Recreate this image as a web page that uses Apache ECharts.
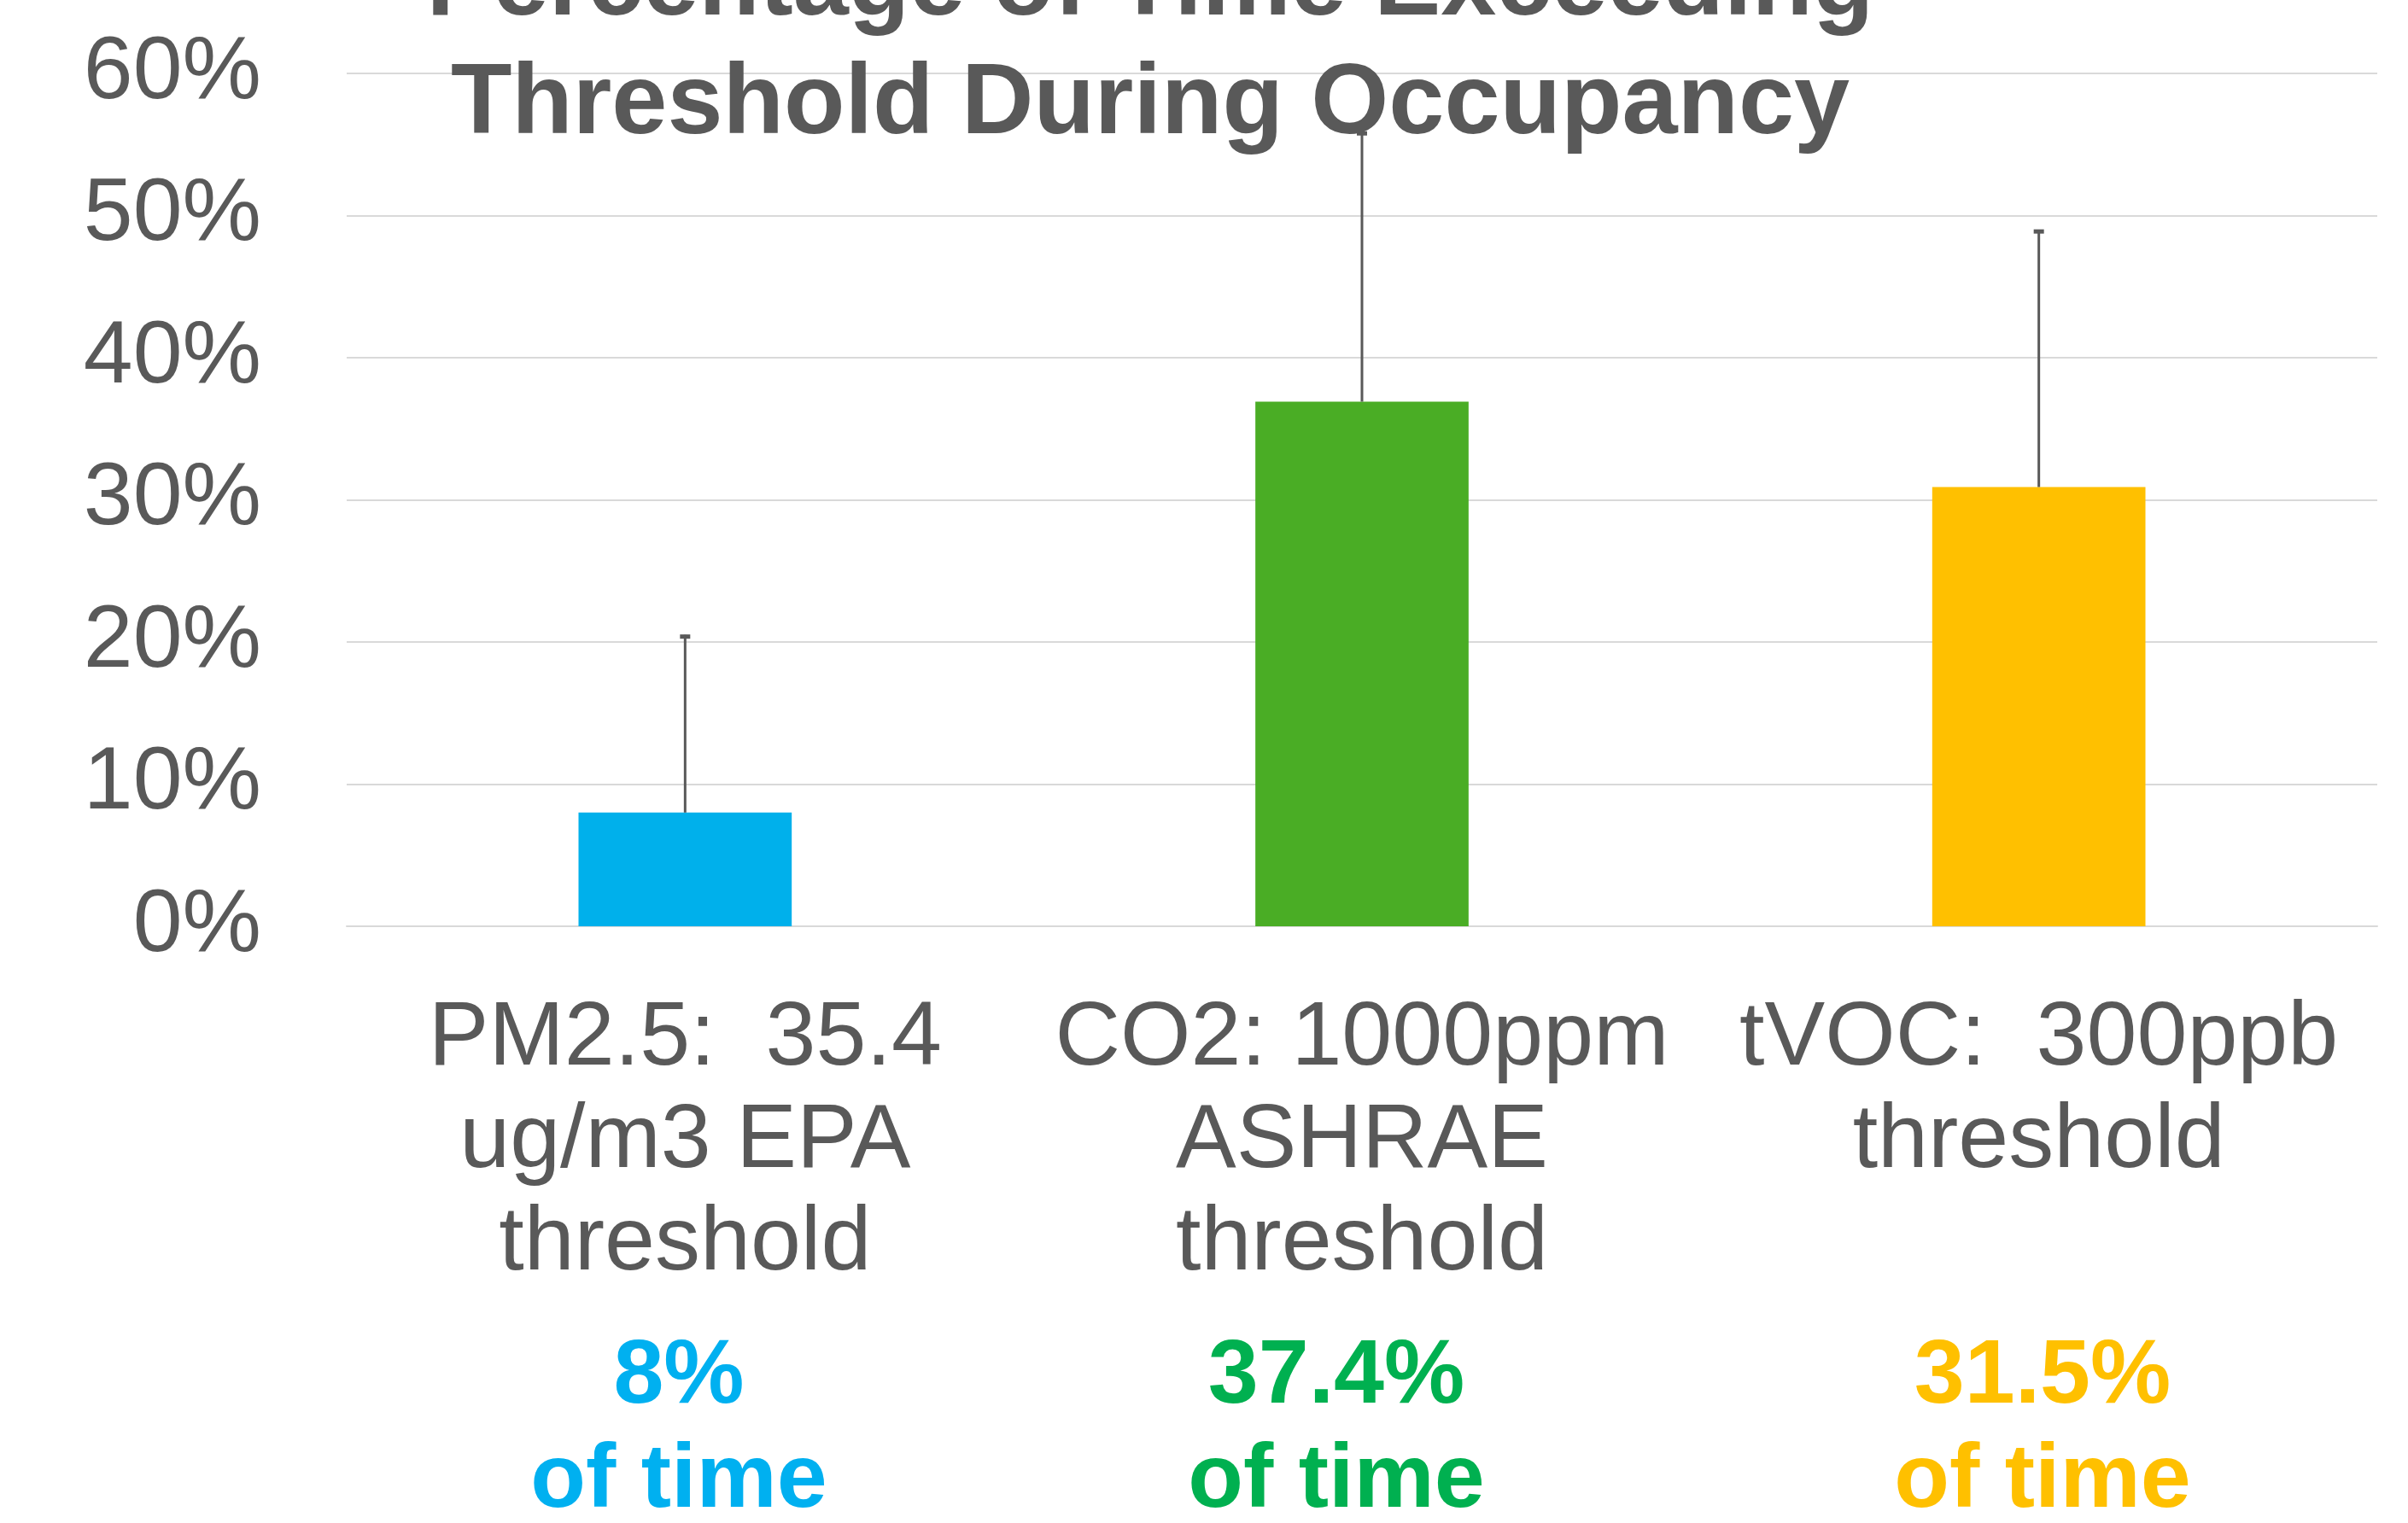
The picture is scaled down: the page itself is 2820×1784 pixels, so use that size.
<!DOCTYPE html>
<html>
<head>
<meta charset="utf-8">
<script src="https://cdn.jsdelivr.net/npm/echarts@6/dist/echarts.min.js"></script>
<style>
  html, body { margin: 0; padding: 0; background: #fff; }
  #chart { width: 2820px; height: 1784px; }
</style>
</head>
<body>
<div id="chart"></div>
<script>
// data
const categories = [
  "PM2.5:  35.4\nug/m3 EPA\nthreshold",
  "CO2: 1000ppm\nASHRAE\nthreshold",
  "tVOC:  300ppb\nthreshold"
];
const values = [8, 36.9, 30.9];        // % of time, bar height
const errorHigh = [20.5, 55.9, 49.0];  // top of error bar
const barColors = ["#00B0EB", "#4AAD25", "#FFC000"];
const pctLabels = ["8%", "37.4%", "31.5%"];
const pctColors = ["#00B0F0", "#00B050", "#FFC000"];
const pctLeft = [795, 1565, 2392];
const yTicks = [0, 10, 20, 30, 40, 50, 60];

const font = "'Liberation Sans', Arial, sans-serif";
const gray = "#595959";

let myChart = echarts.init(document.getElementById("chart"));

// annotation text under each category
let titles = [
  {
    text: "Percentage of Time Exceeding\nThreshold During Occupancy",
    left: 1347,
    top: -85,
    textAlign: "center",
    padding: 0,
    textStyle: {
      fontFamily: font,
      fontSize: 117,
      fontWeight: "bold",
      color: gray,
      lineHeight: 139,
    },
  },
];
pctLabels.forEach((t, i) => {
  titles.push({
    text: t + "\nof time",
    left: pctLeft[i],
    top: 1553,
    textAlign: "center",
    padding: 0,
    textStyle: {
      fontFamily: font,
      fontSize: 106,
      fontWeight: "bold",
      color: pctColors[i],
      lineHeight: 122,
    },
  });
});

myChart.setOption({
  animation: false,
  title: titles,
  grid: {
    left: 406,
    right: 36,
    top: 86,
    bottom: 699,
  },
  xAxis: {
    type: "category",
    data: categories,
    axisLine: { lineStyle: { color: "#D9D9D9", width: 2 } },
    axisTick: { show: false },
    axisLabel: {
      interval: 0,
      margin: 73,
      fontFamily: font,
      fontSize: 106,
      lineHeight: 120,
      color: gray,
    },
  },
  yAxis: {
    type: "value",
    min: yTicks[0],
    max: yTicks[yTicks.length - 1],
    interval: 10,
    axisLine: { show: false },
    axisTick: { show: false },
    splitLine: { lineStyle: { color: "#D9D9D9", width: 2 } },
    axisLabel: {
      formatter: "{value}%",
      margin: 100,
      fontFamily: font,
      fontSize: 104,
      color: gray,
    },
  },
  series: [
    {
      type: "bar",
      barWidth: "31.5%",
      data: values.map((v, i) => ({ value: v, itemStyle: { color: barColors[i] } })),
      z: 2,
    },
    {
      // upper error bars
      type: "custom",
      data: values.map((v, i) => [i, v, errorHigh[i]]),
      z: 3,
      renderItem: function (params, api) {
        let base = api.coord([api.value(0), api.value(1)]);
        let top = api.coord([api.value(0), api.value(2)]);
        return {
          type: "group",
          children: [
            {
              type: "line",
              shape: { x1: base[0], y1: base[1], x2: top[0], y2: top[1] },
              style: { stroke: gray, lineWidth: 3 },
            },
            {
              type: "line",
              shape: { x1: top[0] - 6, y1: top[1] + 2, x2: top[0] + 6, y2: top[1] + 2 },
              style: { stroke: gray, lineWidth: 5 },
            },
          ],
        };
      },
    },
  ],
});
</script>
</body>
</html>
